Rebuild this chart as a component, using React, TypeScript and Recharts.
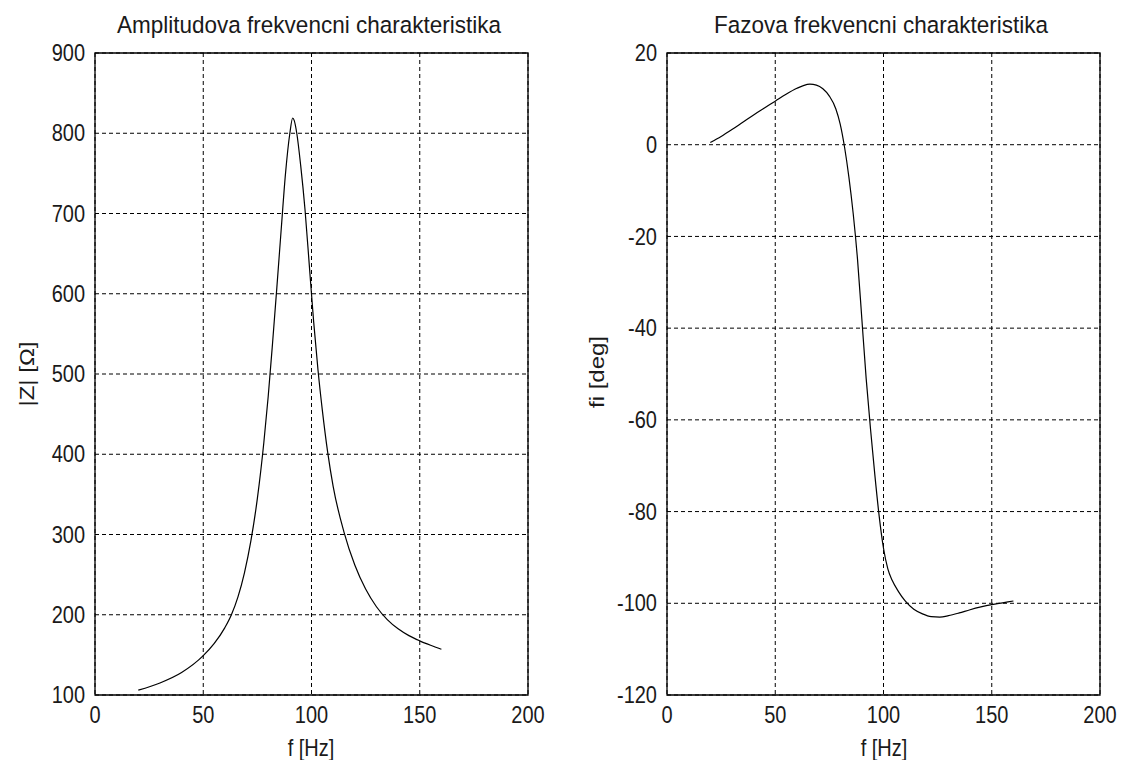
import React from "react";
import { LineChart, Line, XAxis, YAxis, CartesianGrid, ReferenceArea } from "recharts";

// Amplitude characteristic |Z| [Ohm] vs f [Hz]
const ampFreq = [20, 30, 40, 50, 55, 60, 63, 66, 69, 72, 75, 78, 80, 82, 84, 86, 88, 90, 91.3, 92, 93.2, 95, 97, 99, 101, 103, 105, 107.5, 110, 115, 120, 125, 130, 135, 140, 145, 150, 155, 160];
const ampValues = [106, 115, 128, 149, 164, 184, 200, 222, 252, 292, 345, 415, 472, 538, 608, 680, 750, 800, 819, 816, 800, 760, 705, 635, 565, 505, 455, 402, 360, 303, 262, 232, 210, 194, 182.5, 174, 167.5, 162, 157];

// Phase characteristic fi [deg] vs f [Hz]
const phaseFreq = [20, 25, 30, 35, 40, 45, 50, 55, 60, 63, 66, 69, 72, 75, 78, 80, 82, 84, 86, 88, 90, 92, 94, 96, 98, 100, 102, 104, 107, 110, 114, 118, 122, 126, 130, 135, 140, 145, 150, 155, 160];
const phaseValues = [0.5, 1.8, 3.3, 4.9, 6.5, 8.0, 9.5, 11.0, 12.3, 12.9, 13.2, 13.0, 12.2, 10.6, 7.8, 4.5, -0.5, -7, -15, -25, -38, -51, -62, -72, -81, -88, -92.5, -95, -97.5, -99.5, -101.3, -102.3, -102.9, -103, -102.7, -102.1, -101.4, -100.8, -100.3, -99.9, -99.5];

const xTicks = [0, 50, 100, 150, 200];
const ampTicks = [100, 200, 300, 400, 500, 600, 700, 800, 900];
const phaseTicks = [-120, -100, -80, -60, -40, -20, 0, 20];

const leftTitle = "Amplitudova frekvencni charakteristika";
const rightTitle = "Fazova frekvencni charakteristika";
const xLabel = "f [Hz]";
const ampLabel = "|Z| [\u03A9]";
const phaseLabel = "fi [deg]";

const ampData = ampFreq.map((f, i) => ({ f, v: ampValues[i] }));
const phaseData = phaseFreq.map((f, i) => ({ f, v: phaseValues[i] }));

const FONT = "'Liberation Sans', Arial, sans-serif";
const SY = 1.2;

const XTick = (props: any) => {
  const { x, y, payload } = props;
  return (
    <g transform={`translate(${x},${y + 20}) scale(1,${SY})`}>
      <text x={0} y={0} textAnchor="middle" dominantBaseline="central" fontFamily={FONT} fontSize={20} fill="#1a1a1a">
        {payload.value}
      </text>
    </g>
  );
};

const YTick = (props: any) => {
  const { x, y, payload } = props;
  return (
    <g transform={`translate(${x - 10},${y}) scale(1,${SY})`}>
      <text x={0} y={0} textAnchor="end" dominantBaseline="central" fontFamily={FONT} fontSize={20} fill="#1a1a1a">
        {payload.value}
      </text>
    </g>
  );
};

const Txt = ({ x, y, text, size = 20, sy = SY, rotate = false }: { x: number; y: number; text: string; size?: number; sy?: number; rotate?: boolean }) => (
  <div
    style={{
      position: "absolute",
      left: x,
      top: y,
      transform: rotate ? `translate(-50%,-50%) rotate(-90deg) scale(${sy},1)` : `translate(-50%,-50%) scale(1,${sy})`,
      fontFamily: FONT,
      fontSize: size,
      color: "#1a1a1a",
      whiteSpace: "nowrap",
      lineHeight: 1,
    }}
  >
    {text}
  </div>
);

const Panel = ({ data, domain, ticks, marginLeft, marginRight }: any) => (
  <LineChart
    width={marginLeft + 50 + 433 + marginRight}
    height={760}
    data={data}
    margin={{ top: 53, left: marginLeft, right: marginRight, bottom: 25 }}
  >
    <CartesianGrid stroke="#000" strokeDasharray="4 3" strokeWidth={1} />
    <XAxis
      dataKey="f"
      type="number"
      domain={[0, 200]}
      ticks={xTicks}
      height={40}
      tickSize={0}
      tickMargin={0}
      tickLine={false}
      axisLine={false}
      tick={<XTick />}
      interval={0}
    />
    <YAxis
      type="number"
      domain={domain}
      ticks={ticks}
      width={50}
      tickSize={0}
      tickMargin={0}
      tickLine={false}
      axisLine={false}
      tick={<YTick />}
      interval={0}
      allowDataOverflow
    />
    <ReferenceArea x1={0} x2={200} y1={domain[0]} y2={domain[1]} fill="none" stroke="#000" strokeWidth={1.3} ifOverflow="visible" />
    <Line type="monotone" dataKey="v" stroke="#000" strokeWidth={1.2} dot={false} isAnimationActive={false} />
  </LineChart>
);

export default function App() {
  return (
    <div style={{ position: "absolute", left: 0, top: 0, width: 1121, height: 760, background: "#fff", overflow: "hidden" }}>
      <div style={{ position: "absolute", left: 0, top: 0 }}>
        <Panel data={ampData} domain={[100, 900]} ticks={ampTicks} marginLeft={45} marginRight={32} />
      </div>
      <div style={{ position: "absolute", left: 560, top: 0 }}>
        <Panel data={phaseData} domain={[-120, 20]} ticks={phaseTicks} marginLeft={57} marginRight={21} />
      </div>
      <Txt x={309} y={26} text={leftTitle} size={22.5} sy={1.08} />
      <Txt x={881} y={26} text={rightTitle} size={22.5} sy={1.08} />
      <Txt x={311} y={748} text={xLabel} />
      <Txt x={884} y={748} text={xLabel} />
      <Txt x={27} y={374} text={ampLabel} rotate />
      <Txt x={597} y={372} text={phaseLabel} rotate />
    </div>
  );
}
